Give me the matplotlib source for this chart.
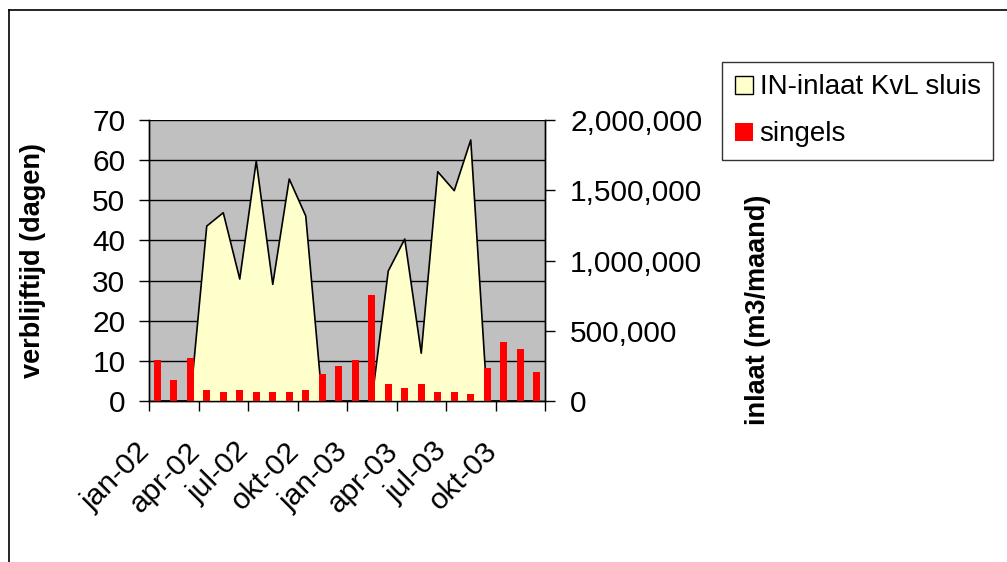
import numpy as np
import matplotlib
matplotlib.use('Agg')
import matplotlib.pyplot as plt
import matplotlib.transforms as mtransforms
from matplotlib.lines import Line2D
from matplotlib.patches import Patch
from matplotlib.ticker import FuncFormatter

plt.rcParams['font.family'] = ['Liberation Sans', 'DejaVu Sans']

# months jan-02 .. dec-03
months = ["jan-02", "feb-02", "mrt-02", "apr-02", "mei-02", "jun-02",
          "jul-02", "aug-02", "sep-02", "okt-02", "nov-02", "dec-02",
          "jan-03", "feb-03", "mrt-03", "apr-03", "mei-03", "jun-03",
          "jul-03", "aug-03", "sep-03", "okt-03", "nov-03", "dec-03"]
tick_labels = ["jan-02", "apr-02", "jul-02", "okt-02",
               "jan-03", "apr-03", "jul-03", "okt-03", ""]

# verblijftijd singels (dagen)
singels = [10.3, 5.3, 10.8, 2.8, 2.3, 2.8, 2.3, 2.3, 2.3, 2.8, 6.8, 8.8,
           10.3, 26.3, 4.3, 3.3, 4.3, 2.3, 2.3, 1.8, 8.3, 14.8, 13.0, 7.3]
# inlaat KvL sluis (m3/maand)
inlaat = [0, 0, 0, 1245000, 1340000, 868000, 1708000, 830000, 1580000,
          1317000, 0, 0, 0, 0, 925000, 1153000, 340000, 1632000, 1497000,
          1858000, 0, 0, 0, 0]

x = np.arange(len(months))
fs = 21.5

fig = plt.figure(figsize=(10.07, 5.62), dpi=100)
ax = fig.add_axes([149 / 1007, 1 - 401 / 562, 396 / 1007, 281 / 562])
ax.set_facecolor('#C0C0C0')
ax2 = ax.twinx()   # area on right axis
ax3 = ax.twinx()   # bars on left scale, drawn on top

# area series
ax2.fill_between(x, inlaat, 0, facecolor='#FFFFCC', edgecolor='none', zorder=2)
ax2.plot(x, inlaat, color='black', lw=1.2, zorder=3)

# bars
ax3.bar(x, singels, width=0.43, color='#FF0000', zorder=3)

for a in (ax, ax2, ax3):
    a.set_xlim(-0.5, len(months) - 0.5)
ax.set_ylim(0, 70)
ax3.set_ylim(0, 70)
ax2.set_ylim(0, 2000000)

# left axis
ax.set_yticks(np.arange(0, 71, 10))
ax.yaxis.grid(True, color='black', lw=1)
ax.set_axisbelow(True)
ax.tick_params(axis='y', direction='out', length=7, width=1, labelsize=fs, pad=10)
ax.set_xticks(np.arange(-0.5, len(months), 3))
ax.set_xticklabels(tick_labels, rotation=45, ha='right', rotation_mode='anchor')
ax.tick_params(axis='x', direction='out', length=7, width=1, labelsize=fs, pad=16)
shift = mtransforms.ScaledTranslation(-13 / 100, -4 / 100, fig.dpi_scale_trans)
for lbl in ax.get_xticklabels():
    lbl.set_transform(lbl.get_transform() + shift)

# right axis
ax2.set_yticks(np.arange(0, 2000001, 500000))
ax2.yaxis.set_major_formatter(FuncFormatter(lambda v, p: '{:,.0f}'.format(v)))
ax2.tick_params(axis='y', direction='out', length=7, width=1, labelsize=fs, pad=11)

ax3.axis('off')

for a in (ax, ax2):
    a.spines['top'].set_visible(False)
    for s in ('left', 'right', 'bottom'):
        a.spines[s].set_linewidth(1)

fig.text(33 / 1007, 1 - 260 / 562, "verblijftijd (dagen)", rotation=90,
         ha='center', va='center', fontsize=19.5, fontweight='bold')
fig.text(758 / 1007, 1 - 310 / 562, "inlaat (m3/maand)", rotation=90,
         ha='center', va='center', fontsize=19.5, fontweight='bold')

handles = [Patch(facecolor='#FFFFCC', edgecolor='black', lw=1),
           Patch(facecolor='#FF0000', edgecolor='none')]
leg = fig.legend(handles, ["IN-inlaat KvL sluis", "singels"],
                 loc='upper left', bbox_to_anchor=(722 / 1007, 1 - 62 / 562),
                 fontsize=20, frameon=True, fancybox=False, borderpad=0.45,
                 handlelength=0.65, handleheight=0.62, handletextpad=0.25,
                 labelspacing=0.75, borderaxespad=0)
leg.get_frame().set_edgecolor('black')
leg.get_frame().set_linewidth(1)

# chart area border (top and left)
fig.add_artist(Line2D([9 / 1007, 1.0], [1 - 10 / 562, 1 - 10 / 562],
                      color='black', lw=1.2))
fig.add_artist(Line2D([9 / 1007, 9 / 1007], [0, 1 - 10 / 562],
                      color='black', lw=1.2))

fig.savefig("out.png", dpi=100)
